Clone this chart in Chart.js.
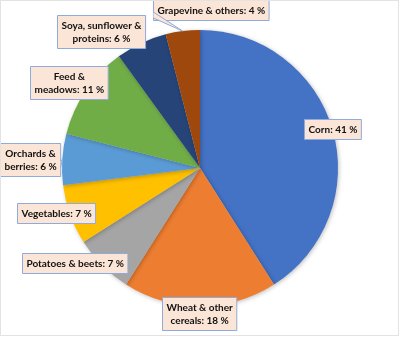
<!DOCTYPE html>
<html lang="en">
<head>
    <meta charset="UTF-8">
    <title>Crop areas</title>
    <script src="https://cdn.jsdelivr.net/npm/chart.js"></script>
    <style>
        html, body {
            margin: 0;
            padding: 0;
            background: #fff;
        }
        .wrap {
            width: 400px;
            height: 337px;
            position: relative;
        }
    </style>
</head>
<body>
    <div class="wrap">
        <canvas id="pieChart" width="400" height="337"></canvas>
    </div>

    <script>
        // Data
        const categories = ['Corn', 'Wheat & other cereals', 'Potatoes & beets', 'Vegetables',
            'Orchards & berries', 'Feed & meadows', 'Soya, sunflower & proteins', 'Grapevine & others'];
        const shares = [41, 18, 7, 7, 6, 11, 6, 4];
        const labelLines = [
            ['Corn: 41 %'],
            ['Wheat & other', 'cereals: 18 %'],
            ['Potatoes & beets: 7 %'],
            ['Vegetables: 7 %'],
            ['Orchards &', 'berries: 6 %'],
            ['Feed &', 'meadows: 11 %'],
            ['Soya, sunflower &', 'proteins: 6 %'],
            ['Grapevine & others: 4 %']
        ];
        const sliceColors = ['#4472C4', '#ED7D31', '#A5A5A5', '#FFC000', '#5B9BD5', '#70AD47', '#264478', '#9E480E'];

        // label offsets from the point on the rim at the slice's middle angle
        const labelOffsets = [[0, 0], [-1, 7], [-28, -3], [-14, -2], [-34, 0], [-17, -8], [-40, -12], [28, -21]];
        const hasPointer = [false, false, false, false, true, false, false, true];

        // pie shadow + frame
        const shadowPlugin = {
            id: 'shadow',
            beforeDatasetsDraw(chart) {
                const ctx = chart.ctx;
                ctx.save();
                ctx.shadowColor = 'rgba(0,0,0,0.25)';
                ctx.shadowBlur = 4;
                ctx.shadowOffsetX = 1;
                ctx.shadowOffsetY = 1;
            },
            afterDatasetsDraw(chart) {
                chart.ctx.restore();
            },
            afterDraw(chart) {
                const ctx = chart.ctx;
                ctx.save();
                ctx.strokeStyle = '#e3e3e3';
                ctx.lineWidth = 1;
                ctx.strokeRect(0.5, 0.5, 398, 335);
                ctx.restore();
            }
        };

        // callout labels
        const calloutPlugin = {
            id: 'callouts',
            afterDatasetsDraw(chart) {
                const ctx = chart.ctx;
                const arcs = chart.getDatasetMeta(0).data;
                ctx.save();
                ctx.font = 'bold 10px Lato, "Open Sans", sans-serif';
                ctx.textAlign = 'center';
                ctx.textBaseline = 'middle';
                const lineH = 13;
                arcs.forEach((arc, i) => {
                    const mid = (arc.startAngle + arc.endAngle) / 2;
                    const rimX = arc.x + Math.cos(mid) * arc.outerRadius;
                    const rimY = arc.y + Math.sin(mid) * arc.outerRadius;
                    const cx = rimX + labelOffsets[i][0];
                    const cy = rimY + labelOffsets[i][1];
                    const lines = labelLines[i];
                    const w = Math.max(...lines.map(t => ctx.measureText(t).width)) + 8;
                    const h = lines.length * lineH + 7;
                    const x0 = Math.max(0, Math.round(cx - w / 2)) + 0.5;
                    const y0 = Math.max(0, Math.round(cy - h / 2)) + 0.5;

                    ctx.fillStyle = '#FBE5D6';
                    ctx.strokeStyle = '#8FAADC';
                    ctx.lineWidth = 1;
                    ctx.beginPath();
                    ctx.rect(x0, y0, w, h);
                    ctx.fill();
                    ctx.stroke();

                    if (hasPointer[i]) {
                        // small wedge pointing from box to the slice rim
                        let a, b;
                        if (Math.abs(rimX - cx) > Math.abs(rimY - cy)) {
                            const ex = rimX > cx ? x0 + w : x0;
                            a = [ex, cy + 2];
                            b = [ex, cy + 8];
                        } else {
                            const ey = rimY > cy ? y0 + h : y0;
                            a = [rimX - 6, ey];
                            b = [rimX + 8, ey];
                        }
                        ctx.beginPath();
                        ctx.moveTo(a[0], a[1]);
                        ctx.lineTo(rimX, rimY);
                        ctx.lineTo(b[0], b[1]);
                        ctx.closePath();
                        ctx.fill();
                        ctx.beginPath();
                        ctx.moveTo(a[0], a[1]);
                        ctx.lineTo(rimX, rimY);
                        ctx.lineTo(b[0], b[1]);
                        ctx.stroke();
                    }

                    const tcx = x0 + w / 2;
                    const tcy = y0 + h / 2;
                    ctx.fillStyle = '#111';
                    lines.forEach((t, k) => {
                        const ty = tcy - (lines.length - 1) * lineH / 2 + k * lineH;
                        ctx.fillText(t, tcx, ty + 0.5);
                    });
                });
                ctx.restore();
            }
        };

        const ctx = document.getElementById('pieChart').getContext('2d');
        const pieChart = new Chart(ctx, {
            type: 'pie',
            data: {
                labels: categories,
                datasets: [{
                    data: shares,
                    backgroundColor: sliceColors,
                    borderWidth: 0
                }]
            },
            options: {
                responsive: false,
                animation: false,
                layout: {
                    padding: { top: 30, bottom: 31, left: 0, right: 0 }
                },
                plugins: {
                    legend: { display: false },
                    tooltip: { enabled: false }
                }
            },
            plugins: [shadowPlugin, calloutPlugin]
        });
    </script>
</body>
</html>
